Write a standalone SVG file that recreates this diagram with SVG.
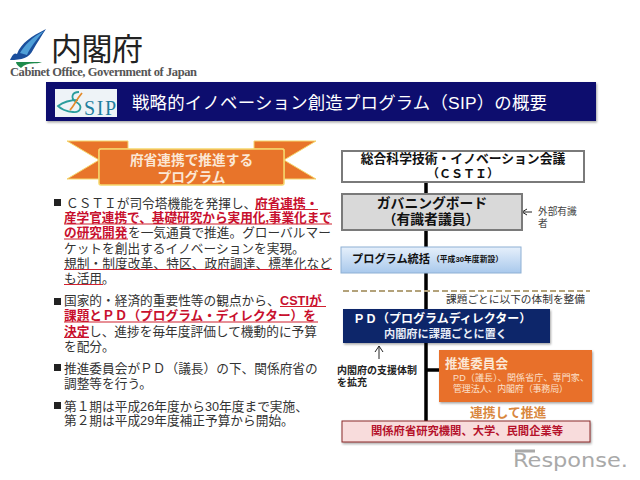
<svg xmlns="http://www.w3.org/2000/svg" width="640" height="480" viewBox="0 0 640 480">
<style>
text{font-family:"Liberation Sans","Noto Sans CJK JP",sans-serif}
.b{font-size:12.7px;fill:#333}
.r{font-size:12.7px;fill:#c8102e;font-weight:700}
.u{stroke:#d0202f;stroke-width:1.1;fill:none}
.c{stroke:#000;stroke-width:3.5;fill:none}
.w{text-anchor:middle;font-weight:700}
</style>
<defs>
<filter id="s" x="-5%" y="-10%" width="110%" height="125%"><feDropShadow dx="1" dy="1.5" stdDeviation="1" flood-color="#000" flood-opacity=".35"/></filter>
<linearGradient id="g" x1="0" y1="0" x2="0" y2="1"><stop offset="0" stop-color="#e6f0fb"/><stop offset="1" stop-color="#a9c9ec"/></linearGradient>
</defs>
<rect width="640" height="480" fill="#fff"/>
<g id="logo">
<path d="M46 29C32 36 21 43 17 54C14 52 12 56 10 60C22 60 29 58 33 50C37 43 42 35 46 29Z" fill="#1b4f9c"/>
<path d="M20 53C24 46 32 37 44 31C36 40 30 48 27 55Z" fill="#4f9fd8"/>
<path d="M16 62H42C36 65 28 61 21 68C18 66 16 64 16 62Z" fill="#1f8a4c"/>
<text x="51" y="60" font-size="31" fill="#222" textLength="92">内閣府</text>
<text x="10" y="76" font-size="12.5" font-weight="700" fill="#555" textLength="187" style="font-family:'Liberation Serif',serif">Cabinet Office, Government of Japan</text>
</g>
<g id="title">
<rect x="46" y="82" width="550" height="39" fill="#0b0f6e" filter="url(#s)"/>
<rect x="55" y="89" width="62" height="28" fill="#eef3f7"/>
<path d="M79 92C72 92 70 98 76 102C84 106 80 113 73 112C66 112 60 108 58 106C62 103 70 100 78 100" fill="none" stroke="#2a9d9d" stroke-width="1.8"/>
<path d="M82 93C76 100 74 106 70 110" fill="none" stroke="#e38a2b" stroke-width="1.8"/>
<text x="84" y="115" font-size="20" fill="#1f7f9f" textLength="32" style="font-family:'Liberation Serif',serif">SIP</text>
<text x="132" y="109" font-size="17.4" fill="#fff" textLength="415">戦略的イノベーション創造プログラム（SIP）の概要</text>
</g>
<g id="ribbon">
<path d="M67 141H128V149H99V179H67L99 160Z" fill="#e8742a" stroke="#f5d76e" stroke-width="1"/>
<path d="M316 141H254V149H284V179H316L284 160Z" fill="#e8742a" stroke="#f5d76e" stroke-width="1"/>
<rect x="99" y="149" width="185" height="36" fill="#e8742a" stroke="#f5d76e" stroke-width="1.5" rx="2"/>
<text class="w" x="191.500" y="165" font-size="13.7" fill="#fbe7d5">府省連携で推進する</text>
<text class="w" x="191.500" y="182" font-size="13.7" fill="#fbe7d5">プログラム</text>
</g>
<g id="overview">
<rect x="54" y="199" width="7" height="7" fill="#222"/>
<text class="b" x="66" y="207.500">ＣＳＴＩが司令塔機能を発揮し、</text>
<text class="r" x="255" y="207.500">府省連携・</text>
<text class="r" x="64" y="222" textLength="268">産学官連携で、基礎研究から実用化,事業化まで</text>
<text class="r" x="64" y="237">の研究開発</text>
<text class="b" x="128" y="237">を一気通貫で推進。グローバルマー</text>
<text class="b" x="64" y="252.500">ケットを創出するイノベーションを実現。</text>
<text class="b" x="64" y="267.500" textLength="268">規制・制度改革、特区、政府調達、標準化など</text>
<text class="b" x="64" y="282.500">も活用。</text>
<path class="u" d="M255 209.500H318M64 224H332M64 239H128M64 269.500H332M64 284.500H103"/>
<rect x="54" y="298" width="7" height="7" fill="#222"/>
<text class="b" x="64" y="304.500">国家的・経済的重要性等の観点から、</text>
<text class="r" x="280" y="304.500">CSTIが</text>
<text class="r" x="64" y="320">課題とＰＤ（プログラム・ディレクター）を</text>
<path class="u" d="M280 306.500H326M64 322H318M64 337.500H89"/>
<text class="r" x="64" y="335.500">決定</text>
<text class="b" x="89" y="335.500">し、進捗を毎年度評価して機動的に予算</text>
<text class="b" x="64" y="350.500">を配分。</text>
<rect x="54" y="364" width="7" height="7" fill="#222"/>
<text class="b" x="64" y="372.500">推進委員会がＰＤ（議長）の下、関係府省の</text>
<text class="b" x="64" y="387.500">調整等を行う。</text>
<rect x="54" y="402" width="7" height="7" fill="#222"/>
<text class="b" x="64" y="410.500">第１期は平成26年度から30年度まで実施、</text>
<text class="b" x="64" y="425">第２期は平成29年度補正予算から開始。</text>
</g>
<g id="connectors">
<path class="c" d="M426 180V422"/>
<path class="c" d="M426 370H440"/>
<path d="M522 212H532M522 212l5-3M522 212l5 3" fill="none" stroke="#222" stroke-width="1"/>
<path d="M379 359V346M379 346l-4 6M379 346l4 6" fill="none" stroke="#222" stroke-width="1"/>
<path d="M343 291H590" fill="none" stroke="#b3a27a" stroke-width="2" stroke-dasharray="6 3"/>
</g>
<g id="csti">
<rect x="342" y="151" width="242" height="31" fill="#fff" stroke="#7a7a7a" stroke-width="2"/>
<text class="w" x="463" y="163" font-size="12.8" fill="#111">総合科学技術・イノベーション会議</text>
<text class="w" x="463" y="178" font-size="12" fill="#111">（ＣＳＴＩ）</text>
</g>
<g id="board">
<rect x="342" y="194" width="180" height="36" fill="#d9d9d9" stroke="#7a7a7a" stroke-width="2"/>
<text class="w" x="432" y="208" font-size="13.800" fill="#111">ガバニングボード</text>
<text class="w" x="431" y="224" font-size="13.800" fill="#111">（有識者議員）</text>
</g>
<g id="external">
<text x="538" y="214.500" font-size="9.700" fill="#444">外部有識</text>
<text x="538" y="226.500" font-size="9.700" fill="#444">者</text>
</g>
<g id="program">
<rect x="341" y="247" width="180" height="26" fill="url(#g)" stroke="#8eb0d4" stroke-width="1"/>
<text x="352" y="262.500" font-size="11.200" font-weight="700" fill="#111">プログラム統括</text>
<text x="432" y="262" font-size="7.800" font-weight="700" fill="#111">（平成30年度新設）</text>
</g>
<g id="note">
<text x="446" y="303" font-size="10.700" fill="#333">課題ごとに以下の体制を整備</text>
</g>
<g id="pd">
<rect x="343" y="309" width="207" height="34" fill="#10266a" filter="url(#s)"/>
<text x="353" y="323" font-size="12" font-weight="700" fill="#fff">ＰＤ（プログラムディレクター）</text>
<text class="w" x="445.500" y="337.500" font-size="11.200" font-weight="700" fill="#e8edf7">内閣府に課題ごとに置く</text>
</g>
<g id="support">
<text x="337" y="373.500" font-size="10" font-weight="700" fill="#222">内閣府の支援体制</text>
<text x="337" y="385.500" font-size="10" font-weight="700" fill="#222">を拡充</text>
</g>
<g id="committee">
<rect x="439" y="350" width="153" height="52" fill="#e8702c" filter="url(#s)"/>
<text x="445" y="368" font-size="12.600" font-weight="700" fill="#fbe7d5">推進委員会</text>
<text x="453" y="381" font-size="9" fill="#fbe0cc" textLength="136">PD（議長）、関係省庁、専門家、</text>
<text x="453" y="392" font-size="9" fill="#fbe0cc" textLength="115">管理法人、内閣府（事務局）</text>
</g>
<g id="link">
<text x="470" y="417" font-size="12.800" font-weight="700" fill="#d9883f">連携して推進</text>
</g>
<g id="institutions">
<rect x="342" y="421" width="248" height="21" fill="#f8dcdc" stroke="#8a2a2a" stroke-width="1" filter="url(#s)"/>
<text x="371" y="435" font-size="11.300" font-weight="700" fill="#b5122b">関係府省研究機関、大学、民間企業等</text>
</g>
<g id="response">
<path d="M515 451H535" fill="none" stroke="#a9a9a9" stroke-width="3"/>
<text x="513" y="467" font-size="20" fill="#a9a9a9" textLength="115" lengthAdjust="spacingAndGlyphs" style="font-family:'DejaVu Sans',sans-serif">Response.</text>
</g>
</svg>
